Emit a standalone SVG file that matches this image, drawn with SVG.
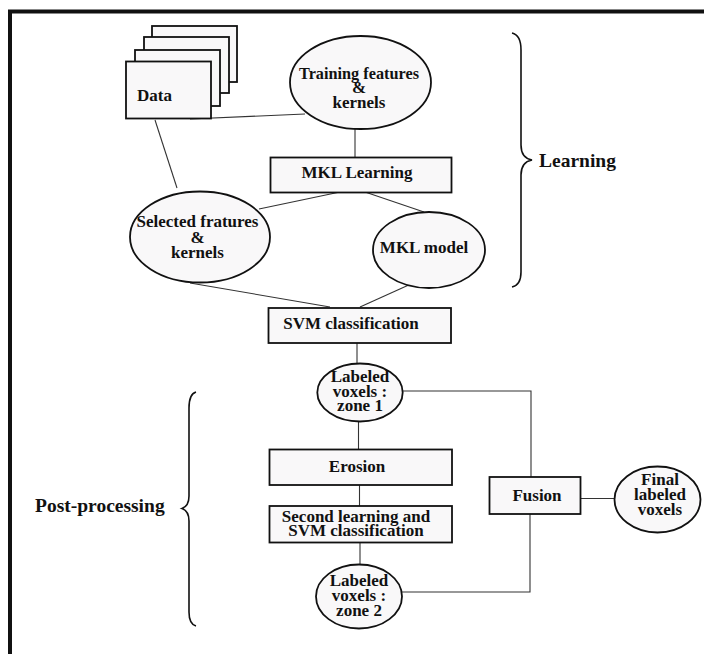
<svg xmlns="http://www.w3.org/2000/svg" width="704" height="654" viewBox="0 0 704 654">
<style>
.shape{fill:#f9f8f9;stroke:#111;stroke-width:1.8}
.conn{fill:none;stroke:#333;stroke-width:1.1}
.brace{fill:none;stroke:#111;stroke-width:1.6}
text{font-family:"Liberation Serif","Times New Roman",serif;font-weight:bold;fill:#111;font-size:17px}
.m{text-anchor:middle}
.lbl{font-size:19.5px}
</style>
<rect width="704" height="654" fill="#fff"/>
<g id="frame">
<path d="M10 654 V11.5 H704" fill="none" stroke="#111" stroke-width="4"/>
</g>
<g id="connectors">
<line class="conn" x1="190" y1="119" x2="305" y2="114"/>
<line class="conn" x1="155" y1="120" x2="177" y2="188"/>
<line class="conn" x1="355" y1="129" x2="355" y2="157"/>
<line class="conn" x1="340" y1="192" x2="259" y2="209"/>
<line class="conn" x1="365" y1="192" x2="424" y2="212"/>
<line class="conn" x1="190" y1="283" x2="330" y2="307"/>
<line class="conn" x1="422" y1="279" x2="360" y2="307"/>
<line class="conn" x1="357" y1="343" x2="357" y2="364"/>
<line class="conn" x1="358.5" y1="421.5" x2="358.5" y2="449"/>
<line class="conn" x1="359.5" y1="485" x2="359.5" y2="506"/>
<line class="conn" x1="360" y1="543" x2="360" y2="564.5"/>
<polyline class="conn" points="402.5,391 531,391 531,477"/>
<polyline class="conn" points="530,514 530,592 402,592"/>
<line class="conn" x1="580.5" y1="498.5" x2="614.5" y2="498.5"/>
</g>
<g id="data">
<rect class="shape" x="152" y="26" width="85" height="56"/>
<rect class="shape" x="144" y="37" width="85" height="56"/>
<rect class="shape" x="135" y="50" width="85" height="56"/>
<rect class="shape" x="126" y="61.5" width="85" height="57"/>
<text x="137" y="101">Data</text>
</g>
<g id="training">
<ellipse class="shape" cx="360.5" cy="82.5" rx="70.5" ry="46.5"/>
<text class="m" x="359" y="79" textLength="120" lengthAdjust="spacingAndGlyphs" font-size="16">Training features</text>
<text class="m" x="359" y="93" font-size="16">&amp;</text>
<text class="m" x="359" y="108" font-size="16">kernels</text>
</g>
<g id="mkl-learning">
<rect class="shape" x="270.5" y="157.5" width="181" height="35"/>
<text class="m" x="357" y="178">MKL Learning</text>
</g>
<g id="selected">
<ellipse class="shape" cx="200" cy="237" rx="70" ry="45.5"/>
<text class="m" x="197.5" y="227" font-size="16.4">Selected fratures</text>
<text class="m" x="197.5" y="243" font-size="16.4">&amp;</text>
<text class="m" x="197.5" y="258" font-size="16.4">kernels</text>
</g>
<g id="mkl-model">
<ellipse class="shape" cx="429" cy="250" rx="56" ry="38"/>
<text class="m" x="424" y="253" font-size="17.4">MKL model</text>
</g>
<g id="svm">
<rect class="shape" x="268.5" y="308" width="182.5" height="35"/>
<text class="m" x="351" y="329">SVM classification</text>
</g>
<g id="zone1">
<ellipse class="shape" cx="360" cy="392.5" rx="42.7" ry="29"/>
<text class="m" x="360" y="382">Labeled</text>
<text class="m" x="360" y="396.5">voxels :</text>
<text class="m" x="360" y="411">zone 1</text>
</g>
<g id="erosion">
<rect class="shape" x="269.5" y="449.5" width="182.5" height="35.5"/>
<text class="m" x="357" y="472">Erosion</text>
</g>
<g id="second">
<rect class="shape" x="269.5" y="506" width="182.5" height="36.5"/>
<text class="m" x="356" y="522">Second learning and</text>
<text class="m" x="356" y="536">SVM classification</text>
</g>
<g id="zone2">
<ellipse class="shape" cx="359" cy="596.5" rx="43" ry="32"/>
<text class="m" x="359" y="585.5">Labeled</text>
<text class="m" x="359" y="600.5">voxels :</text>
<text class="m" x="359" y="615.5">zone 2</text>
</g>
<g id="fusion">
<rect class="shape" x="489.5" y="477" width="91" height="37"/>
<text class="m" x="537" y="501">Fusion</text>
</g>
<g id="final">
<ellipse class="shape" cx="657.5" cy="499.5" rx="43" ry="33"/>
<text class="m" x="660" y="485" font-size="15">Final</text>
<text class="m" x="660" y="500" font-size="15">labeled</text>
<text class="m" x="660" y="514.5" font-size="15">voxels</text>
</g>
<g id="learning-brace">
<path class="brace" d="M512 33 Q521 35 521 50 L521 145 Q521 158 532 160 Q521 162 521 175 L521 272 Q521 285 512 287"/>
<text class="lbl" x="539" y="167">Learning</text>
</g>
<g id="post-brace">
<path class="brace" d="M196 392 Q189 394 189 408 L189 496 Q189 506 182 508.5 Q189 511 189 521 L189 612 Q189 624 196 626"/>
<text class="lbl" x="35" y="512">Post-processing</text>
</g>
</svg>
